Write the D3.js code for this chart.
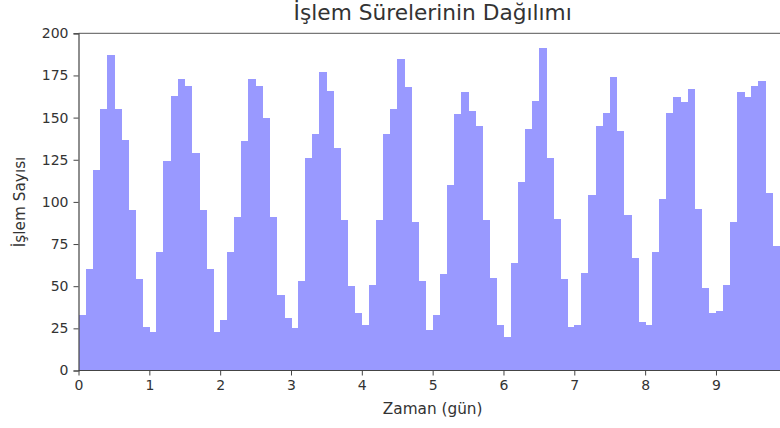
<!DOCTYPE html>
<html>
<head>
<meta charset="utf-8">
<script src="https://cdn.jsdelivr.net/npm/d3@7"></script>
<style>
  body { margin: 0; background: #fff; }
  svg { display: block; font-family: "DejaVu Sans", sans-serif; }
</style>
</head>
<body>
<div id="chart"></div>
<script>
// Histogram bins: 0.1 day wide, from 0 to 10 days
const binStart = 0;
const binWidth = 0.1;

// Counts per bin, one row per day
const day0 = [33, 60, 119, 155, 187, 155, 137, 95, 54, 26];
const day1 = [23, 70, 124, 163, 173, 169, 129, 95, 60, 23];
const day2 = [30, 70, 91, 136, 173, 169, 150, 91, 45, 31];
const day3 = [25, 53, 126, 140, 177, 166, 132, 89, 50, 34];
const day4 = [27, 51, 89, 140, 155, 185, 168, 88, 53, 24];
const day5 = [33, 57, 110, 152, 165, 154, 145, 89, 55, 27];
const day6 = [20, 64, 112, 143, 160, 191, 126, 90, 54, 26];
const day7 = [27, 58, 104, 145, 153, 174, 142, 92, 67, 29];
const day8 = [27, 70, 102, 153, 162, 159, 167, 96, 49, 34];
const day9 = [35, 51, 88, 165, 162, 169, 172, 105, 74, 33];

const counts = [].concat(day0, day1, day2, day3, day4, day5, day6, day7, day8, day9);

const xTicks = [0, 1, 2, 3, 4, 5, 6, 7, 8, 9];
const yTicks = [0, 25, 50, 75, 100, 125, 150, 175, 200];

const titleText = "İşlem Sürelerinin Dağılımı";
const xLabel = "Zaman (gün)";
const yLabel = "İşlem Sayısı";

// Build bin objects from the counts
const bins = counts.map((c, i) => ({
  x0: binStart + i * binWidth,
  x1: binStart + (i + 1) * binWidth,
  count: c
}));

// Dimensions (plot runs past the right edge, like the cropped original)
const width = 780, height = 428;
const margin = { top: 33.3, left: 78.5, bottom: 57.5 };
const plotRight = 786.8;

const svg = d3.select("#chart")
  .append("svg")
  .attr("width", width)
  .attr("height", height);

const x = d3.scaleLinear()
  .domain([0, 10])
  .range([margin.left, plotRight]);

const y = d3.scaleLinear()
  .domain([0, 200])
  .range([height - margin.bottom, margin.top]);

// Bars
svg.append("g")
  .attr("class", "bars")
  .attr("shape-rendering", "crispEdges")
  .selectAll("rect")
  .data(bins)
  .enter().append("rect")
  .attr("x", d => x(d.x0))
  .attr("y", d => y(d.count))
  .attr("width", d => x(d.x1) - x(d.x0) + 0.6)
  .attr("height", d => y(0) - y(d.count))
  .attr("fill", "#9999ff");

// Top spine
svg.append("line")
  .attr("x1", x(0)).attr("x2", plotRight)
  .attr("y1", y(200)).attr("y2", y(200))
  .attr("stroke", "#555").attr("stroke-width", 1);

// Axes
const xAxis = svg.append("g")
  .attr("transform", `translate(0,${y(0)})`)
  .call(d3.axisBottom(x).tickValues(xTicks).tickFormat(d3.format("d")).tickSize(5).tickPadding(5));

const yAxis = svg.append("g")
  .attr("transform", `translate(${x(0)},0)`)
  .call(d3.axisLeft(y).tickValues(yTicks).tickFormat(d3.format("d")).tickSize(5).tickPadding(5));

[xAxis, yAxis].forEach(a => {
  a.select(".domain").attr("stroke", "#444").attr("stroke-width", 1.2);
  a.selectAll(".tick line").attr("stroke", "#444");
  a.selectAll(".tick text")
    .attr("fill", "#333")
    .style("font-size", "14px")
    .style("font-family", "DejaVu Sans, sans-serif");
});
xAxis.select(".domain").attr("d", `M${x(0)},0H${plotRight}`);

// Title
svg.append("text")
  .attr("x", (x(0) + plotRight) / 2)
  .attr("y", 20)
  .attr("text-anchor", "middle")
  .style("font-size", "21.7px")
  .style("fill", "#333")
  .text(titleText);

// Axis labels
svg.append("text")
  .attr("x", (x(0) + plotRight) / 2)
  .attr("y", 414)
  .attr("text-anchor", "middle")
  .style("font-size", "15.3px")
  .style("fill", "#333")
  .text(xLabel);

svg.append("text")
  .attr("transform", `translate(25,${(y(0) + y(200)) / 2}) rotate(-90)`)
  .attr("text-anchor", "middle")
  .style("font-size", "15.3px")
  .style("fill", "#333")
  .text(yLabel);
</script>
</body>
</html>
